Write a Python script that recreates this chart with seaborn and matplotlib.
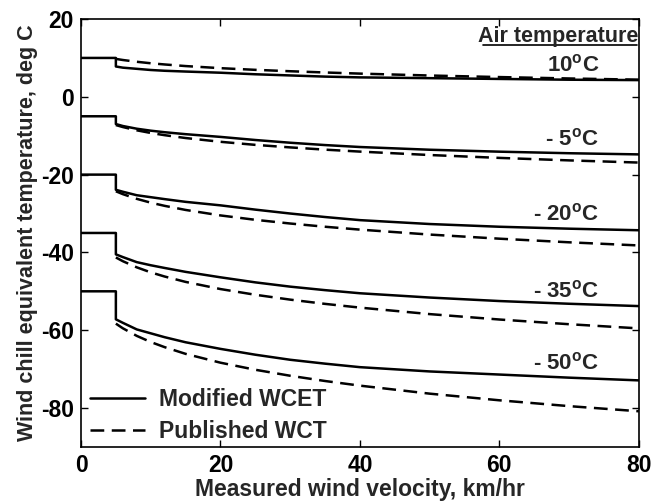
import matplotlib
matplotlib.use('Agg')
import matplotlib.pyplot as plt
import pandas as pd
import seaborn as sns

# Air temperatures (deg C)
temps = [10, -5, -20, -35, -50]

# Modified WCET: flat up to 5 km/hr, then drop and decay
mod_v = [0, 5, 5, 6, 8, 10, 12, 15, 20, 25, 30, 35, 40, 50, 60, 70, 80]
mod_10 = [10, 10, 7.8, 7.5, 7.2, 6.9, 6.7, 6.5, 6.2, 5.8, 5.5, 5.2, 5.0, 4.8, 4.6, 4.4, 4.3]
mod_m5 = [-5, -5, -7.0, -7.5, -8.2, -8.7, -9.1, -9.6, -10.3, -11.1, -11.8, -12.4, -12.9, -13.6, -14.1, -14.5, -14.8]
mod_m20 = [-20, -20, -23.9, -24.4, -25.3, -25.8, -26.3, -27.0, -27.9, -29.0, -30.0, -30.9, -31.7, -32.7, -33.4, -33.9, -34.3]
mod_m35 = [-35, -35, -40.5, -41.2, -42.5, -43.3, -44.0, -45.0, -46.4, -47.7, -48.8, -49.7, -50.5, -51.6, -52.5, -53.2, -53.8]
mod_m50 = [-50, -50, -57.2, -58.1, -59.8, -60.8, -61.8, -63.1, -64.8, -66.3, -67.6, -68.6, -69.5, -70.6, -71.4, -72.2, -72.9]

# Published WCT
pub_v = [5, 6, 8, 10, 12, 15, 20, 25, 30, 35, 40, 50, 60, 70, 80]
pub_10 = [9.75, 9.47, 9.01, 8.63, 8.32, 7.91, 7.37, 6.94, 6.58, 6.26, 5.97, 5.48, 5.08, 4.72, 4.41]
pub_m5 = [-7.26, -7.77, -8.61, -9.29, -9.86, -10.59, -11.56, -12.35, -13.00, -13.58, -14.08, -14.96, -15.70, -16.34, -16.90]
pub_m20 = [-24.28, -25.02, -26.23, -27.21, -28.03, -29.08, -30.49, -31.62, -32.57, -33.40, -34.14, -35.41, -36.47, -37.40, -38.21]
pub_m35 = [-41.30, -42.26, -43.84, -45.13, -46.20, -47.58, -49.42, -50.89, -52.14, -53.23, -54.19, -55.86, -57.25, -58.46, -59.53]
pub_m50 = [-58.31, -59.51, -61.46, -63.04, -64.36, -66.08, -68.35, -70.17, -71.71, -73.06, -74.25, -76.31, -78.02, -79.52, -80.84]

mod_series = [mod_10, mod_m5, mod_m20, mod_m35, mod_m50]
pub_series = [pub_10, pub_m5, pub_m20, pub_m35, pub_m50]

# long-form table
rows = []
for t, ys in zip(temps, mod_series):
    for v, y in zip(mod_v, ys):
        rows.append((v, y, t, 'Modified WCET'))
for t, ys in zip(temps, pub_series):
    for v, y in zip(pub_v, ys):
        rows.append((v, y, t, 'Published WCT'))
df = pd.DataFrame(rows, columns=['V', 'WCT', 'T', 'Model'])

sns.set_style('ticks')
plt.rcParams['font.family'] = ['Liberation Sans', 'DejaVu Sans']
plt.rcParams['font.weight'] = 'bold'
plt.rcParams['axes.unicode_minus'] = False
plt.rcParams['mathtext.fontset'] = 'custom'
plt.rcParams['mathtext.rm'] = 'Liberation Sans:bold'

fig = plt.figure(figsize=(6.64, 5.01), dpi=100)
ax = fig.add_axes([0.122, 0.108, 0.840, 0.854])

sns.lineplot(data=df, x='V', y='WCT', units='T', style='Model', estimator=None,
             sort=False, color='black', linewidth=1.8,
             dashes={'Modified WCET': '', 'Published WCT': (5.5, 3)}, ax=ax)

ax.set_xlim(0, 80)
ax.set_ylim(-90, 20)
ax.set_xticks([0, 20, 40, 60, 80])
ax.set_yticks([-80, -60, -40, -20, 0, 20])
ax.tick_params(direction='in', top=True, right=True, length=5, width=1,
               labelsize=16.5, colors='black', pad=5)
for s in ax.spines.values():
    s.set_linewidth(1.2)
    s.set_color('black')
ax.set_xlabel('Measured wind velocity, km/hr', fontsize=16.5, fontweight='bold', labelpad=1)
ax.set_ylabel('Wind chill equivalent temperature, deg C', fontsize=15.5, fontweight='bold', labelpad=2)

# temperature labels
lab_y = [6.6, -12.4, -31.8, -51.6, -70.0]
lab_txt = [r'10$^\mathregular{o}$C', r'- 5$^\mathregular{o}$C', r'- 20$^\mathregular{o}$C',
           r'- 35$^\mathregular{o}$C', r'- 50$^\mathregular{o}$C']
for y, s in zip(lab_y, lab_txt):
    ax.text(74.3, y, s, ha='right', va='baseline', fontsize=16)

ax.text(79.9, 14.2, 'Air temperature', ha='right', va='baseline', fontsize=15.5)
ax.plot([57.6, 79.8], [13.3, 13.3], color='black', linewidth=1.2)

leg = ax.legend(loc='lower left', bbox_to_anchor=(0.0, -0.012), frameon=False,
                fontsize=16.5, handlelength=2.4, handletextpad=0.6, labelspacing=0.37,
                borderaxespad=0.0)

fig.savefig('out.png', dpi=100)
